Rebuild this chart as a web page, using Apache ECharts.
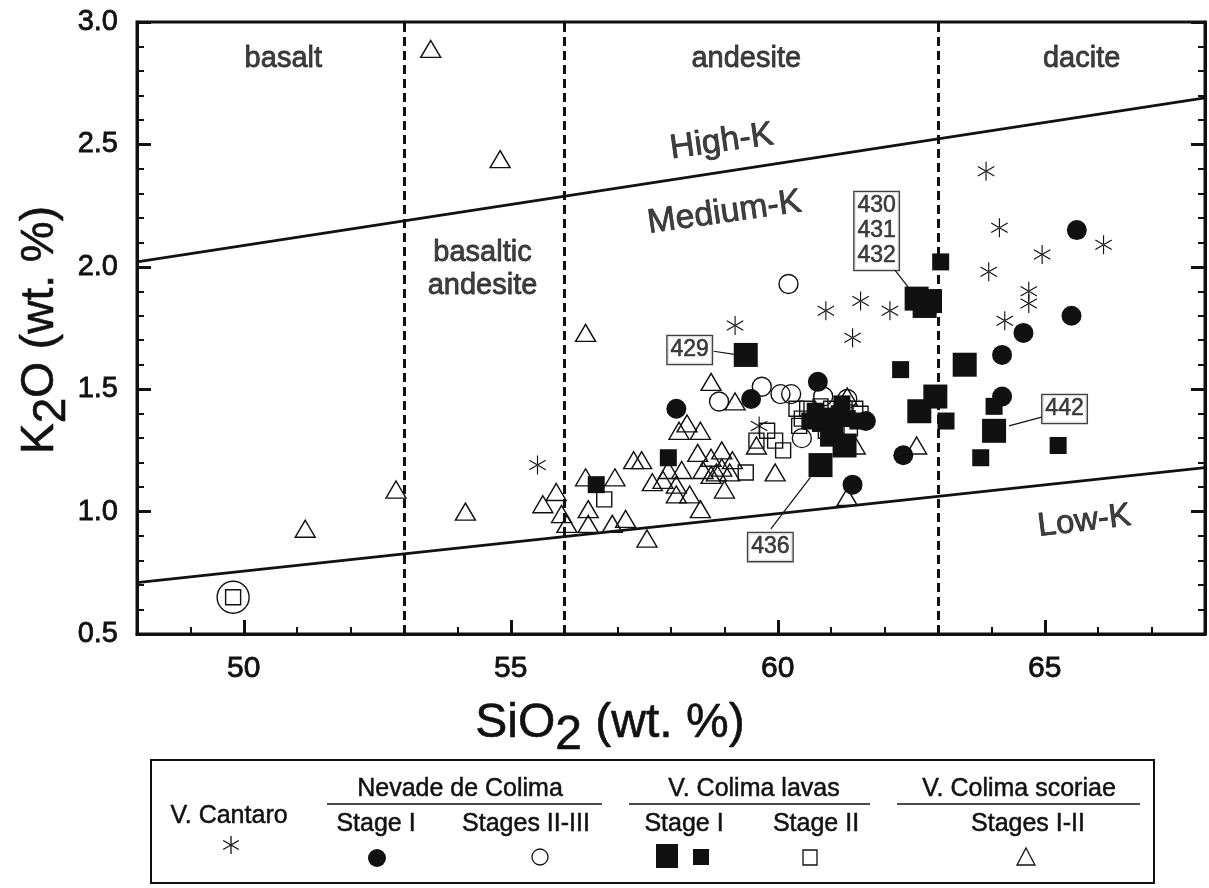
<!DOCTYPE html>
<html><head><meta charset="utf-8">
<script src="https://cdn.jsdelivr.net/npm/echarts@6/dist/echarts.min.js"></script>
<style>html,body{margin:0;padding:0;background:#fff}#c{width:1209px;height:888px}</style>
</head><body><div id="c"></div>
<script>
// ---------------- data ----------------
const xTickLabels = [50, 55, 60, 65];
const yTickLabels = [0.5, 1.0, 1.5, 2.0, 2.5, 3.0];
const rockBoundaries = [53, 56, 63];
const highKLine = [[48, 2.02], [68, 2.69]];
const lowKLine = [[48, 0.71], [68, 1.18]];

const cantaro = [[55.5,1.19],[59.2,1.76],[59.65,1.35],[60.9,1.82],[61.55,1.86],[62.1,1.82],[61.4,1.71],
  [63.9,2.39],[64.15,2.16],[64.95,2.05],[63.95,1.98],[64.7,1.90],[64.7,1.85],[64.25,1.78],[66.1,2.09]];
const nevadoStage1 = [[58.1,1.42],[59.5,1.46],[60.75,1.53],[61.65,1.37],[61.4,1.11],[65.6,2.15],[65.5,1.80],
  [64.6,1.73],[64.2,1.64],[64.2,1.47],[62.35,1.23]];
const nevadoStage23 = [[58.9,1.45],[59.7,1.51],[60.05,1.48],[60.25,1.48],[60.2,1.93],[60.45,1.30],[60.85,1.47],[61.3,1.46]];
const encircled = [[49.8,0.65]];
const lavasStage1Large = [[59.4,1.64],[62.6,1.87],[62.75,1.84],[62.85,1.86],[63.5,1.60],[62.65,1.41],[62.95,1.47],
  [64.05,1.33],[60.8,1.19],[61.25,1.27]];
const lavasStage1Small = [[63.05,2.02],[62.3,1.58],[63.15,1.37],[63.8,1.22],[65.25,1.27],[64.05,1.43],[56.6,1.11],
  [57.95,1.22],[60.7,1.41],[60.95,1.39],[61.15,1.40],[61.3,1.38],[60.8,1.36],[61.05,1.35],[61.5,1.37],[60.6,1.37],
  [60.95,1.30],[61.2,1.44]];
const lavasStage2 = [[49.8,0.65],[56.75,1.05],[59.6,1.29],[59.8,1.33],[59.95,1.29],[60.1,1.25],[59.4,1.16],[60.35,1.42],
  [60.45,1.38],[60.4,1.35],[60.55,1.42],[60.8,1.43],[61.0,1.42],[61.25,1.42],[61.45,1.42],[61.55,1.40],[61.1,1.35],
  [60.9,1.33],[61.35,1.34]];
const scoriae = [[53.5,2.89],[54.8,2.44],[56.4,1.73],[52.85,1.09],[51.15,0.93],[54.15,1.0],
  [55.6,1.03],[55.85,1.08],[55.95,0.99],[56.05,0.95],[56.4,1.14],[56.95,1.14],[56.45,1.01],[56.45,0.95],[56.9,0.95],
  [57.15,0.97],[57.55,0.89],[57.3,1.21],[57.45,1.21],[57.65,1.12],[57.85,1.13],[57.95,1.17],[58.1,1.11],[58.2,1.17],
  [58.1,1.07],[58.35,1.07],[58.55,1.01],[58.15,1.33],[58.3,1.36],[58.55,1.33],[58.5,1.24],[58.75,1.22],[58.95,1.25],
  [58.75,1.15],[58.95,1.18],[59.0,1.09],[58.75,1.53],[59.2,1.45],[59.6,1.27],[59.15,1.21],[58.85,1.16],[58.6,1.17],
  [59.95,1.16],[61.45,1.27],[61.3,1.06],[61.3,1.47],[62.6,1.27],[59.1,1.16]];

const sampleLabels = ['429', '430\n431\n432', '436', '442'];

// ---------------- chart ----------------
const FONT = '"Liberation Sans", Arial, Helvetica, sans-serif';
const INK = '#111';
const TB = {textBorderColor: INK, textBorderWidth: 0.8};
const chart = echarts.init(document.getElementById('c'), null, {renderer: 'canvas'});

const asterisk = 'path://M47,0L53,0L53,100L47,100Z M91.8,77.6L94.8,72.4L8.2,22.4L5.2,27.6Z M5.2,72.4L8.2,77.6L94.8,27.6L91.8,22.4Z';
const clear = 'rgba(255,255,255,0)';

function scatter(name, data, symbol, size, filled, z) {
  return {
    name, type: 'scatter', data, symbol, symbolSize: size, z: z || 3, silent: true,
    itemStyle: filled ? {color: INK, opacity: 1} : {color: clear, borderColor: INK, borderWidth: 1.4, opacity: 1}
  };
}

const regionText = [
  {name: 'basalt', value: [50.74, 2.85], fs: 29, rot: 0},
  {name: 'andesite', value: [59.41, 2.85], fs: 29, rot: 0},
  {name: 'dacite', value: [65.69, 2.85], fs: 29, rot: 0},
  {name: 'basaltic\nandesite', value: [54.47, 1.99], fs: 29, rot: 0},
  {name: 'High-K', value: [58.95, 2.51], fs: 34, rot: 8},
  {name: 'Medium-K', value: [59.0, 2.22], fs: 34, rot: 8},
  {name: 'Low-K', value: [65.74, 0.96], fs: 33, rot: 7}
];

const annotAt = [[58.35, 1.66], [61.85, 2.146], [59.86, 0.855], [65.37, 1.419]];
const leaders = [
  [[58.8, 1.655], [59.25, 1.64]],
  [[62.19, 1.987], [62.46, 1.912]],
  [[59.87, 0.929], [60.61, 1.14]],
  [[64.94, 1.386], [64.33, 1.35]]
];

const option = {
  animation: false,
  backgroundColor: '#fff',
  grid: {left: 137, right: 4, top: 22, bottom: 254, show: true, borderColor: INK, borderWidth: 3, backgroundColor: 'transparent'},
  xAxis: [
    {type: 'value', min: 48, max: 68, interval: 1,
      axisLine: {lineStyle: {color: INK, width: 3}},
      axisTick: {inside: true, length: 7, lineStyle: {color: INK, width: 2}},
      axisLabel: {show: false}, splitLine: {show: false}},
    {type: 'value', min: 48, max: 68, position: 'bottom',
      axisLine: {show: false},
      axisTick: {show: true, inside: true, length: 14, customValues: xTickLabels, lineStyle: {color: INK, width: 3}},
      axisLabel: Object.assign({show: true, customValues: xTickLabels, fontSize: 30, color: INK, fontFamily: FONT, margin: 20}, TB),
      splitLine: {show: false}}
  ],
  yAxis: [
    {type: 'value', min: 0.5, max: 3.0, interval: 0.5, position: 'left',
      axisLine: {show: true, lineStyle: {color: INK, width: 3}},
      axisTick: {show: true, inside: true, length: 14, lineStyle: {color: INK, width: 3}},
      minorTick: {show: true, splitNumber: 5, length: 7, lineStyle: {color: INK, width: 2}},
      axisLabel: Object.assign({fontSize: 29, color: INK, fontFamily: FONT, margin: 19, formatter: v => v.toFixed(1)}, TB),
      splitLine: {show: false}},
    {type: 'value', min: 0.5, max: 3.0, interval: 0.5, position: 'right',
      axisLine: {show: true, lineStyle: {color: INK, width: 3}},
      axisTick: {show: true, inside: true, length: 14, lineStyle: {color: INK, width: 3}},
      minorTick: {show: true, splitNumber: 5, length: 7, lineStyle: {color: INK, width: 2}},
      axisLabel: {show: false}, splitLine: {show: false}}
  ],
  series: [
    {type: 'line', data: highKLine, symbol: 'none', silent: true, lineStyle: {color: INK, width: 2.8}, z: 2},
    {type: 'line', data: lowKLine, symbol: 'none', silent: true, lineStyle: {color: INK, width: 2.8}, z: 2,
      markLine: {silent: true, symbol: 'none', label: {show: false},
        lineStyle: {color: INK, width: 3, type: [9, 5]},
        data: rockBoundaries.map(v => ({xAxis: v}))}},
    scatter('V. Colima scoriae', scoriae, 'triangle', [20, 17], false, 3),
    scatter('V. Colima lavas Stage II', lavasStage2, 'rect', 15, false, 3),
    scatter('Nevade de Colima Stages II-III', nevadoStage23, 'circle', 19, false, 3),
    scatter('encircled', encircled, 'circle', 32, false, 3),
    scatter('V. Colima lavas Stage I (small)', lavasStage1Small, 'rect', 17, true, 4),
    scatter('V. Colima lavas Stage I (large)', lavasStage1Large, 'rect', 24, true, 4),
    scatter('Nevade de Colima Stage I', nevadoStage1, 'circle', 20, true, 4),
    scatter('V. Cantaro', cantaro, asterisk, [17, 19], true, 4),
    {type: 'scatter', silent: true, symbolSize: 0, z: 5,
      data: regionText.map(t => ({name: t.name, value: t.value,
        label: {rotate: t.rot, fontSize: t.fs}})),
      label: Object.assign({show: true, position: 'inside', formatter: p => p.name, color: INK, fontFamily: FONT,
        align: 'center', verticalAlign: 'middle', lineHeight: 33}, TB)},
    {type: 'scatter', silent: true, symbolSize: 0, z: 6,
      data: sampleLabels.map((s, i) => ({name: s, value: annotAt[i]})),
      label: {show: true, position: 'inside', formatter: p => p.name, color: INK, fontFamily: FONT, fontSize: 23,
        lineHeight: 25, backgroundColor: '#fff', borderColor: INK, borderWidth: 1.3, padding: [2, 3, 1, 3],
        textBorderColor: INK, textBorderWidth: 0.6},
      markLine: {silent: true, symbol: 'none', label: {show: false}, lineStyle: {color: INK, width: 1.2, type: 'solid'},
        data: leaders.map(l => [{coord: l[0]}, {coord: l[1]}])}}
  ]
};

// ---- axis titles with subscripts ----
const mctx = document.createElement('canvas').getContext('2d');
function tw(t, fs) { mctx.font = fs + 'px ' + FONT; return mctx.measureText(t).width; }
function subTitle(parts, fs, cx, cy, rotation) {
  const total = parts.reduce((s, p) => s + tw(p[0], fs), 0);
  let x = -total / 2;
  const children = parts.map(p => {
    const el = {type: 'text', x: x, y: p[1], style: {text: p[0], font: fs + 'px ' + FONT, fill: INK, align: 'left', verticalAlign: 'middle',
      stroke: INK, lineWidth: 0.6}};
    x += tw(p[0], fs);
    return el;
  });
  return {type: 'group', x: cx, y: cy, rotation: rotation, children: children, silent: true};
}

// ---- legend (drawn box) ----
const LF = '25px ' + FONT;
function lt(text, x, y) { return {type: 'text', x, y, style: {text, font: LF, fill: INK, align: 'center', verticalAlign: 'middle', stroke: INK, lineWidth: 0.5}}; }
function ln(x1, y1, x2, y2, w) { return {type: 'line', shape: {x1, y1, x2, y2}, style: {stroke: INK, lineWidth: w || 1.5}}; }
const ax = 231, ay = 845, ar = 9;
const legend = [
  {type: 'rect', shape: {x: 151, y: 760, width: 1003, height: 123}, style: {fill: 'none', stroke: INK, lineWidth: 2}},
  lt('V. Cantaro', 229, 816),
  ln(ax, ay - ar, ax, ay + ar, 1.3),
  ln(ax - ar * 0.87, ay - ar * 0.5, ax + ar * 0.87, ay + ar * 0.5, 1.3),
  ln(ax - ar * 0.87, ay + ar * 0.5, ax + ar * 0.87, ay - ar * 0.5, 1.3),
  lt('Nevade de Colima', 460, 789), ln(327, 804, 602, 804),
  lt('Stage I', 376, 824), lt('Stages II-III', 526, 824),
  {type: 'circle', shape: {cx: 377, cy: 858, r: 9}, style: {fill: INK}},
  {type: 'circle', shape: {cx: 540, cy: 857, r: 8}, style: {fill: 'none', stroke: INK, lineWidth: 1.3}},
  lt('V. Colima lavas', 754, 789), ln(629, 804, 870, 804),
  lt('Stage I', 684, 824), lt('Stage II', 816, 824),
  {type: 'rect', shape: {x: 656, y: 844, width: 22, height: 24}, style: {fill: INK}},
  {type: 'rect', shape: {x: 693, y: 849, width: 16, height: 16}, style: {fill: INK}},
  {type: 'rect', shape: {x: 803, y: 850, width: 14, height: 15}, style: {fill: 'none', stroke: INK, lineWidth: 1.3}},
  lt('V. Colima scoriae', 1019, 789), ln(897, 804, 1140, 804),
  lt('Stages I-II', 1028, 824),
  {type: 'polygon', shape: {points: [[1026, 848], [1035, 865], [1017, 865]]}, style: {fill: 'none', stroke: INK, lineWidth: 1.3}}
];

option.graphic = [
  subTitle([['SiO', 0], ['2', 12], [' (wt. %)', 0]], 48, 610, 724, 0),
  subTitle([['K', 0], ['2', 12], ['O (wt. %)', 0]], 46, 40, 330, Math.PI / 2),
  {type: 'group', silent: true, children: legend}
];

chart.setOption(option);
</script>
</body></html>
